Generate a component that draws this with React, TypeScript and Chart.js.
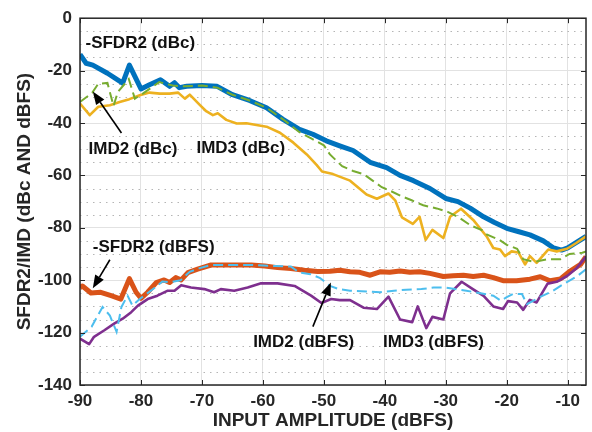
import React, { useEffect, useRef } from 'react';
import { Chart, registerables } from 'chart.js';

Chart.register(...registerables);

// -SFDR2 (dBc)
const SFDR2_DBC_X = [-90, -89, -87.9, -85.5, -83, -81.9, -80, -78.6, -76.8, -75.3, -74.5, -73.7, -72.5, -70, -67.5, -65, -62.2, -59.4, -56.7, -54, -51.8, -49.6, -47.4, -45.2, -42.4, -39.7, -37.5, -35.3, -32.6, -30, -28, -26, -23.8, -22, -20, -18, -16.2, -14, -12.3, -11, -10, -8.5, -7];
const SFDR2_DBC_Y = [-13.8, -17.2, -17.9, -21, -24.8, -17.9, -27, -25.4, -23.5, -26, -24.6, -26.5, -26, -25.7, -26, -29.2, -31.4, -34.2, -38.6, -42.4, -44.3, -46.8, -48.7, -50.5, -55, -57, -60, -62, -65, -68.8, -70, -72.5, -75.8, -78, -80.2, -81.5, -82.7, -85, -87.7, -88.5, -87.7, -85.5, -83.3];

// IMD2 (dBc)
const IMD2_DBC_X = [-90, -88, -87, -85.5, -84.5, -83.8, -82, -81, -79.7, -77.8, -77, -74.8, -73, -70, -67.5, -65, -62.2, -59.4, -56.7, -54, -52, -50, -49, -47, -45.2, -43.5, -42, -40.5, -39, -37.2, -35.6, -33.7, -31.5, -29.6, -28, -26, -24, -23.3, -21.2, -20, -18.3, -17.3, -15.5, -13.4, -11.2, -9.7, -7.6, -7];
const IMD2_DBC_Y = [-32, -28.5, -25, -24.7, -33.5, -28.2, -23.2, -30.7, -28.8, -25.7, -24.4, -25.7, -26, -25.7, -26.5, -29.2, -31.4, -34.2, -38.6, -43.5, -46, -48.5, -52, -56.5, -58.3, -59.5, -62, -64.5, -66, -68, -69.5, -71.4, -72.6, -74, -75.8, -79, -81, -82.5, -84.6, -86.5, -88, -92, -93, -92, -92, -90, -89.5, -89];

// IMD3 (dBc)
const IMD3_DBC_X = [-90, -88.4, -87, -85.1, -83.5, -81.9, -80.2, -78.6, -76.9, -75.3, -73.9, -72.8, -72, -70.4, -69.3, -68.2, -67.4, -66, -64.3, -62.7, -59.4, -57.2, -55, -52.8, -51.2, -50.3, -48.5, -45.7, -43, -41.3, -39.4, -38.3, -37.2, -35.4, -34.3, -33.3, -32.2, -30.4, -29.3, -27.5, -25.5, -23.3, -22.2, -21.1, -20.3, -19.2, -18.1, -17, -16.2, -15.1, -13.2, -11.8, -10.1, -8.6, -7];
const IMD3_DBC_Y = [-32.6, -37, -33.8, -33.2, -32, -30.9, -29.4, -28.4, -28.8, -28.8, -28.4, -30.7, -29.2, -33, -35.5, -37, -36.3, -38.8, -40.2, -40.1, -41.4, -43.7, -47.5, -52, -56, -58.5, -59.5, -62, -67.3, -68.9, -66.9, -69.5, -76, -78.5, -75.8, -84.6, -80.8, -83.9, -75.8, -72.7, -77, -83.3, -87.7, -88.3, -90.8, -89, -89.4, -94, -90.8, -93.4, -88.3, -89, -88, -85.8, -83.3];

// -SFDR2 (dBFS)
const SFDR2_DBFS_X = [-90, -89.6, -88.2, -86.6, -84.9, -83.3, -81.9, -80.8, -80, -78.9, -77.5, -76.2, -75.3, -74.3, -73.4, -72.3, -70.7, -68.5, -66.3, -61.9, -59.7, -57.6, -55.4, -53.2, -51, -49, -47.4, -45.7, -44.1, -42.4, -40.8, -39.2, -37.5, -35.9, -34.3, -32.6, -30.4, -28.8, -27.1, -25.5, -23.8, -22.2, -20.6, -18.4, -16.2, -14.5, -12.9, -11.2, -9.6, -7.9, -7];
const SFDR2_DBFS_Y = [-102.8, -102.2, -104.9, -104.6, -105.9, -107.2, -99.4, -104.6, -106.9, -104.6, -100.9, -99.9, -100.9, -99, -99.9, -97.1, -95.8, -94.2, -94.2, -94.2, -94.6, -95.2, -95.5, -96.2, -96.7, -96.6, -96.2, -96.8, -97, -98.1, -96.8, -97, -96.5, -97, -96.8, -97.4, -98.6, -98.3, -98.1, -98.6, -98.1, -99, -100.2, -100.2, -99.6, -98.7, -100.2, -99.5, -96.5, -94, -91];

// IMD2 (dBFS)
const IMD2_DBFS_X = [-90, -88.1, -86.3, -85.1, -84, -83.2, -82.2, -81.4, -80.2, -77.8, -76.5, -75.3, -73.5, -72, -70.5, -68.5, -66, -62, -58, -55.4, -54, -52.2, -50.6, -49, -47.5, -45.7, -43, -40.8, -38.5, -36.5, -34, -32, -30, -28.5, -26.6, -25.5, -22.2, -21, -20, -19, -17.5, -16.7, -14.5, -12.4, -10.7, -8.4, -7];
const IMD2_DBFS_Y = [-121.6, -117.8, -110.2, -113.5, -119.7, -110.2, -105.9, -109.7, -107.2, -103, -100.5, -100.8, -100, -96.8, -95.5, -94.2, -94.2, -94.2, -94.6, -94.8, -97.1, -97.7, -99.2, -102.2, -103.4, -104, -104.3, -104.6, -104, -103.6, -103.4, -102.8, -102.8, -103.4, -104, -104.5, -105.9, -107.8, -106.5, -105.3, -105.3, -109.1, -106.4, -104, -101.5, -98.4, -95.8];

// IMD3 (dBFS)
const IMD3_DBFS_X = [-90, -88.5, -87.7, -86, -84.4, -83, -81.6, -80.5, -78.9, -77.3, -75.6, -74.5, -73.4, -71.8, -69.6, -68, -66.9, -64.7, -62.5, -60.3, -57.6, -54.8, -52.1, -50.4, -48.8, -47.4, -45.7, -43.5, -41.3, -39.4, -37.5, -35.5, -34.6, -33.2, -32.2, -30.4, -29.3, -27.4, -25.5, -23.8, -22.2, -20.6, -19.8, -18.3, -17.3, -16.2, -15.1, -13.3, -11.8, -10.1, -8.5, -7];
const IMD3_DBFS_Y = [-122.3, -124.4, -121.6, -119.1, -116.6, -114.7, -112.2, -109.7, -107.2, -105.9, -104, -104, -101.9, -102.8, -103.4, -104.6, -103.4, -104, -102.8, -101.2, -101.2, -102.2, -105.9, -108.7, -107.2, -107.6, -107.6, -110.5, -111, -106.3, -115, -116, -110, -118.3, -114, -115, -105, -100.6, -103.5, -106, -110, -111, -108, -108.5, -111.3, -107.5, -108.5, -101.3, -100.6, -98.4, -95.3, -91];

const X_TICKS = [-90, -80, -70, -60, -50, -40, -30, -20, -10];
const Y_TICKS = [0, -20, -40, -60, -80, -100, -120, -140];
const Y_MINOR_STEP = 5;

// Annotations (text anchored at left edge, vertical centre, in data units)
const NOTE_TEXT = ['-SFDR2 (dBc)', 'IMD2 (dBc)', 'IMD3 (dBc)', '-SFDR2 (dBFS)', 'IMD2 (dBFS)', 'IMD3 (dBFS)'];
const NOTE_X = [-89.1, -88.6, -70.9, -87.9, -61.6, -40.3];
const NOTE_Y = [-9.5, -50.2, -49.5, -87.4, -123.7, -123.7];
// Arrows: tail x, tail y, tip x, tip y
const ARROW_TAIL_X = [-83.2, -85.1, -51.8];
const ARROW_TAIL_Y = [-43.8, -92.2, -117.7];
const ARROW_TIP_X = [-87.9, -87.9, -48.85];
const ARROW_TIP_Y = [-28, -103.1, -100.9];

const FONT_FAMILY = '"Liberation Sans", Arial, Helvetica, sans-serif';
const TEXT_COLOR = '#262626';

const pts = (xs: number[], ys: number[]) => xs.map((x, i) => ({ x, y: ys[i] }));

const overlay = {
  id: 'overlay',
  beforeDatasetsDraw(chart: any) {
    const { ctx, chartArea: a, scales } = chart;
    const y = scales.y;
    ctx.save();
    ctx.strokeStyle = '#b5b5b5';
    ctx.lineWidth = 1;
    ctx.setLineDash([1.5, 5]);
    for (let v = -140 + Y_MINOR_STEP; v < 0; v += Y_MINOR_STEP) {
      if (v % 20 === 0) continue;
      const py = Math.round(y.getPixelForValue(v)) + 0.5;
      ctx.beginPath();
      ctx.moveTo(a.left, py);
      ctx.lineTo(a.right, py);
      ctx.stroke();
    }
    ctx.restore();
  },
  afterDatasetsDraw(chart: any) {
    const { ctx, chartArea: a, scales } = chart;
    const x = scales.x;
    const y = scales.y;
    ctx.save();
    ctx.strokeStyle = TEXT_COLOR;
    ctx.lineWidth = 1.5;
    ctx.setLineDash([]);
    ctx.strokeRect(a.left, a.top, a.right - a.left, a.bottom - a.top);
    const tl = 5;
    ctx.lineWidth = 1;
    ctx.beginPath();
    for (const v of X_TICKS) {
      const px = Math.round(x.getPixelForValue(v)) + 0.5;
      ctx.moveTo(px, a.bottom);
      ctx.lineTo(px, a.bottom - tl);
      ctx.moveTo(px, a.top);
      ctx.lineTo(px, a.top + tl);
    }
    for (const v of Y_TICKS) {
      const py = Math.round(y.getPixelForValue(v)) + 0.5;
      ctx.moveTo(a.left, py);
      ctx.lineTo(a.left + tl, py);
      ctx.moveTo(a.right, py);
      ctx.lineTo(a.right - tl, py);
    }
    ctx.stroke();

    // annotation text
    ctx.fillStyle = '#111111';
    ctx.font = `bold 17px ${FONT_FAMILY}`;
    ctx.textAlign = 'left';
    ctx.textBaseline = 'middle';
    NOTE_TEXT.forEach((t, i) => {
      ctx.fillText(t, x.getPixelForValue(NOTE_X[i]), y.getPixelForValue(NOTE_Y[i]));
    });

    // arrows
    ctx.strokeStyle = '#000000';
    ctx.fillStyle = '#000000';
    ctx.lineWidth = 1.6;
    ARROW_TAIL_X.forEach((_, i) => {
      const x0 = x.getPixelForValue(ARROW_TAIL_X[i]);
      const y0 = y.getPixelForValue(ARROW_TAIL_Y[i]);
      const x1 = x.getPixelForValue(ARROW_TIP_X[i]);
      const y1 = y.getPixelForValue(ARROW_TIP_Y[i]);
      const ang = Math.atan2(y1 - y0, x1 - x0);
      const hl = 13;
      const hw = 5;
      const bx = x1 - hl * Math.cos(ang);
      const by = y1 - hl * Math.sin(ang);
      ctx.beginPath();
      ctx.moveTo(x0, y0);
      ctx.lineTo(bx, by);
      ctx.stroke();
      ctx.beginPath();
      ctx.moveTo(x1, y1);
      ctx.lineTo(bx + hw * Math.sin(ang), by - hw * Math.cos(ang));
      ctx.lineTo(bx - hw * Math.sin(ang), by + hw * Math.cos(ang));
      ctx.closePath();
      ctx.fill();
    });
    ctx.restore();
  },
};

export default function App() {
  const ref = useRef<HTMLCanvasElement | null>(null);

  useEffect(() => {
    if (!ref.current) return;
    const tickFont = { family: FONT_FAMILY, size: 17, weight: 'bold' as const };
    const titleFont = { family: FONT_FAMILY, size: 19, weight: 'bold' as const };
    const base = { pointRadius: 0, pointHoverRadius: 0, tension: 0, fill: false, borderJoinStyle: 'round' as const };
    const chart = new Chart(ref.current, {
      type: 'line',
      data: {
        datasets: [
          { ...base, label: '-SFDR2 (dBc)', data: pts(SFDR2_DBC_X, SFDR2_DBC_Y), borderColor: '#0072BD', borderWidth: 5, order: 3 },
          { ...base, label: 'IMD3 (dBc)', data: pts(IMD3_DBC_X, IMD3_DBC_Y), borderColor: '#EDB120', borderWidth: 2.6, order: 2 },
          { ...base, label: 'IMD2 (dBc)', data: pts(IMD2_DBC_X, IMD2_DBC_Y), borderColor: '#77AC30', borderWidth: 2, borderDash: [10, 5], borderJoinStyle: 'miter', order: 1 },
          { ...base, label: '-SFDR2 (dBFS)', data: pts(SFDR2_DBFS_X, SFDR2_DBFS_Y), borderColor: '#D95319', borderWidth: 5, order: 3 },
          { ...base, label: 'IMD3 (dBFS)', data: pts(IMD3_DBFS_X, IMD3_DBFS_Y), borderColor: '#7E2F8E', borderWidth: 2.6, order: 2 },
          { ...base, label: 'IMD2 (dBFS)', data: pts(IMD2_DBFS_X, IMD2_DBFS_Y), borderColor: '#4DBEEE', borderWidth: 2, borderDash: [10, 5], borderJoinStyle: 'miter', order: 1 },
        ],
      },
      options: {
        animation: false,
        responsive: false,
        devicePixelRatio: 1,
        events: [],
        layout: { padding: { top: 16, right: 6, left: 0, bottom: 0 } },
        plugins: { legend: { display: false }, tooltip: { enabled: false }, title: { display: false } },
        scales: {
          x: {
            type: 'linear',
            position: 'bottom',
            min: -90,
            max: -7,
            afterBuildTicks: (s: any) => { s.ticks = X_TICKS.map((v) => ({ value: v })); },
            afterFit: (s: any) => { s.height = 47; },
            grid: { color: '#e2e2e2', lineWidth: 1, drawTicks: false },
            border: { display: false },
            ticks: { font: tickFont, color: TEXT_COLOR, padding: 6, maxRotation: 0, callback: (v: any) => String(v) },
            title: { display: true, text: 'INPUT AMPLITUDE (dBFS)', font: titleFont, color: TEXT_COLOR, padding: { top: 0, bottom: 0 } },
          },
          y: {
            type: 'linear',
            min: -140,
            max: 0,
            afterBuildTicks: (s: any) => { s.ticks = Y_TICKS.map((v) => ({ value: v })); },
            afterFit: (s: any) => { s.width = 80; },
            grid: { color: '#e2e2e2', lineWidth: 1, drawTicks: false },
            border: { display: false },
            ticks: { font: tickFont, color: TEXT_COLOR, padding: 8, callback: (v: any) => String(v) },
            title: { display: true, text: 'SFDR2/IMD (dBc AND dBFS)', font: titleFont, color: TEXT_COLOR, padding: { top: 13, bottom: 0 } },
          },
        },
      },
      plugins: [overlay],
    });
    return () => chart.destroy();
  }, []);

  return (
    <div style={{ position: 'absolute', left: 0, top: 0, width: 592, height: 432, background: '#ffffff' }}>
      <canvas ref={ref} width={592} height={432} style={{ width: 592, height: 432, display: 'block' }} />
    </div>
  );
}
